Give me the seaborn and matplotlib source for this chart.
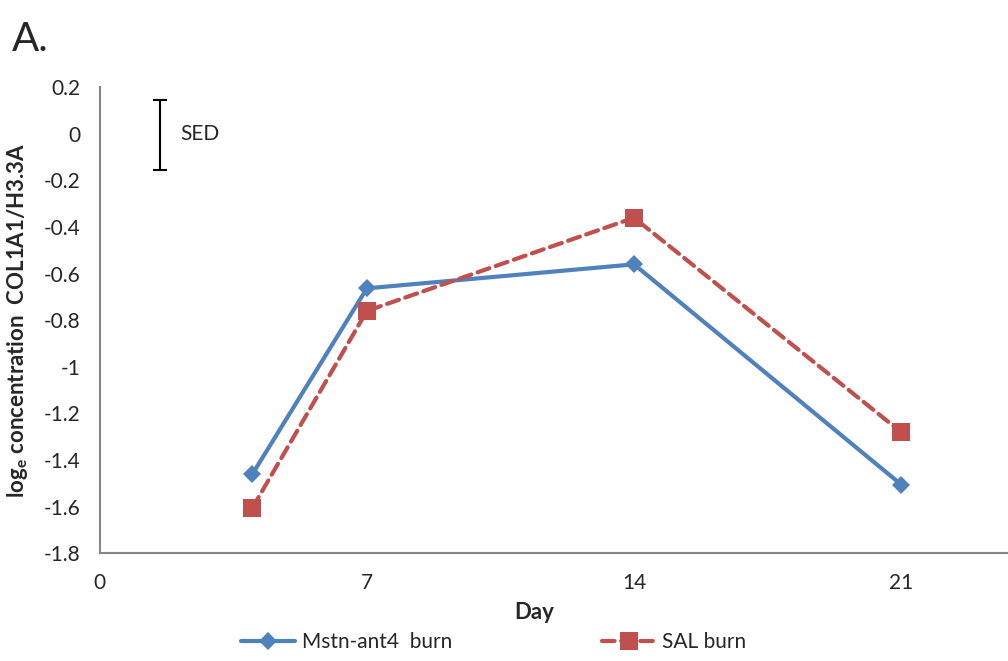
import seaborn as sns
import pandas as pd
import matplotlib.pyplot as plt

# data
days = [4, 7, 14, 21]
mstn = [-1.46, -0.663, -0.56, -1.505]
sal = [-1.605, -0.76, -0.36, -1.28]
groups = ['Mstn-ant4  burn', 'SAL burn']
yticks = [0.2, 0, -0.2, -0.4, -0.6, -0.8, -1, -1.2, -1.4, -1.6, -1.8]
ytick_labels = ['0.2', '0', '-0.2', '-0.4', '-0.6', '-0.8', '-1', '-1.2', '-1.4', '-1.6', '-1.8']
xticks = [0, 7, 14, 21]
sed_x, sed_center, sed_half = 1.57, -0.005, 0.152

df = pd.concat([
    pd.DataFrame(dict(day=days, value=mstn, group=groups[0])),
    pd.DataFrame(dict(day=days, value=sal, group=groups[1])),
])

sns.set_style('white')
plt.rcParams['font.family'] = ['Lato', 'DejaVu Sans']

fig = plt.figure(figsize=(10.08, 6.61), dpi=100)
ax = fig.add_axes([0.099, 0.163, 0.901, 0.705])

sns.lineplot(data=df, x='day', y='value', hue='group', style='group',
             markers=['D', 's'], dashes=['', (3, 1.6)],
             palette=['#4F81BD', '#C0504D'], linewidth=3,
             markeredgewidth=0, legend=True, ax=ax)
for ln in ax.lines:
    if ln.get_marker() == 's':
        ln.set_markersize(12.5)
    else:
        ln.set_markersize(9.5)
    ln.set_dash_capstyle('round')

# SED bar
ax.errorbar([sed_x], [sed_center], yerr=[sed_half], color='black',
            capsize=5, elinewidth=1.5, capthick=1.5)
ax.text(sed_x + 0.55, 0, 'SED', fontsize=15, va='center', ha='left')

ax.set_xlim(0, 23.8)
ax.set_ylim(-1.8, 0.2)
ax.set_xticks(xticks)
ax.set_xticklabels([str(d) for d in xticks], fontsize=15)
ax.set_yticks(yticks)
ax.set_yticklabels(ytick_labels, fontsize=15)
ax.tick_params(axis='x', direction='out', length=6, color='#868686', width=1, pad=8)
ax.tick_params(axis='y', direction='in', length=6, color='#868686', width=1, pad=14)
sns.despine(ax=ax)
for s in ['left', 'bottom']:
    ax.spines[s].set_color('#868686')
    ax.spines[s].set_linewidth(1.5)

ax.set_xlabel('Day', fontsize=16, fontweight='bold')
ax.xaxis.set_label_coords(0.478, -0.105)
ax.set_ylabel(r'log$_\mathregular{e}$ concentration  COL1A1/H3.3A', fontsize=16, fontweight='bold')
ax.yaxis.set_label_coords(-0.077, 0.5)

handles, labels = ax.get_legend_handles_labels()
ax.legend_.remove()
for h in handles:
    h.set_linewidth(3)
fig.legend(handles, labels, loc='center', bbox_to_anchor=(0.49, 0.028), ncol=2,
           frameon=False, fontsize=15, handlelength=2.6, columnspacing=7.2,
           handletextpad=0.3)

fig.text(0.012, 0.94, 'A.', fontsize=29, va='center', ha='left')

fig.savefig('out.png', dpi=100)
